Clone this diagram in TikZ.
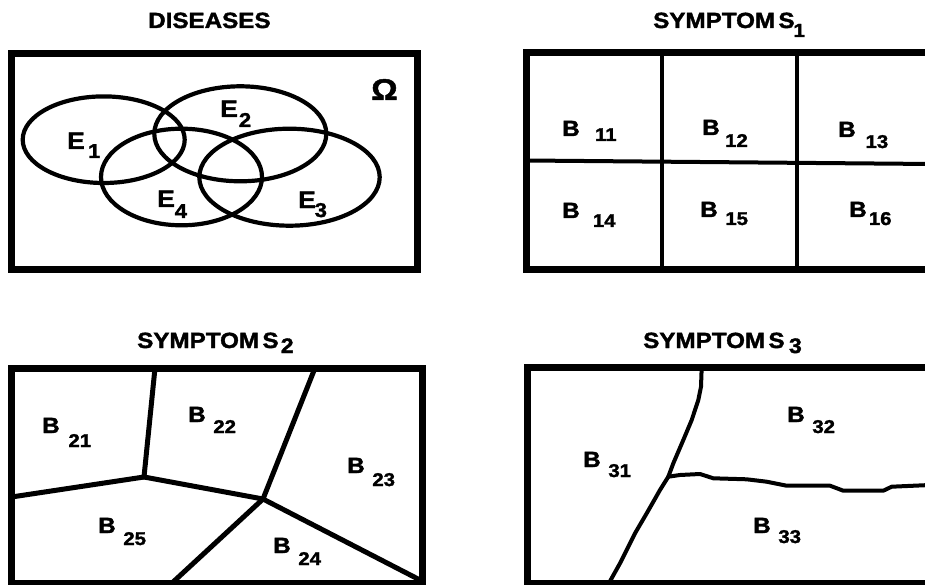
\documentclass[tikz,border=0pt]{standalone}
\usepackage{fontspec}
\setmainfont{Liberation Sans}
\newfontfamily\heavy[FakeBold=1.6]{Liberation Sans Bold}
\newcommand{\wide}[1]{\scalebox{1.1}[1]{#1}}
\newcommand{\blab}[3]{\wide{B\hspace{#2pt}\raisebox{-#3pt}{\fontsize{18.5}{18.5}\selectfont #1}}}
\newcommand{\elab}[3]{\wide{E\hspace{#2pt}\raisebox{-#3pt}{\fontsize{20}{20}\selectfont #1}}}
\newcommand{\stitle}[4]{\wide{SYMPTOM\hspace{3pt}S\hspace{#2pt}\raisebox{-#3pt}{\fontsize{#4}{#4}\selectfont #1}}}
\begin{document}
\begin{tikzpicture}[x=1pt,y=-1pt,
  frame/.style={line width=7pt},
  part/.style={line width=4pt, line join=round, line cap=round},
  cut/.style={line width=5pt, line join=round, line cap=round},
  set/.style={line width=4.2pt},
  lab/.style={anchor=base west, inner sep=0pt, font=\fontsize{22}{22}\selectfont\heavy},
  elabel/.style={anchor=base west, inner sep=0pt, font=\fontsize{24}{24}\selectfont\heavy}]
\useasboundingbox (0,0) rectangle (925,585);
\fill[white] (0,0) rectangle (925,585);
\clip (0,0) rectangle (925,585);

% ---------- titles ----------
\node[lab] (t0) at (148,28) {\wide{DISEASES}};
\node[lab] (t1) at (653,28) {\stitle{1}{-1}{9}{19}};
\node[lab] (t2) at (137,348) {\stitle{2}{2}{5}{21}};
\node[lab] (t3) at (643,348) {\stitle{3}{4}{5}{21}};

% ---------- diseases ----------
\draw[frame] (11.5,53.5) rectangle (417.5,269.5);
\draw[set] (103.7,139.7) ellipse [x radius=81pt, y radius=43.3pt];
\draw[set] (240.3,133.8) ellipse [x radius=86pt, y radius=47.5pt];
\draw[set] (181.5,177) ellipse [x radius=80.5pt, y radius=48.3pt];
\draw[set] (289.5,177.2) ellipse [x radius=90.2pt, y radius=48.5pt];
\node[elabel] (e1) at (67,149) {\elab{1}{3}{9}};
\node[elabel] (e2) at (220,117) {\elab{2}{1}{10}};
\node[elabel] (e4) at (157,207) {\elab{4}{0}{11}};
\node[elabel] (e3) at (298,208) {\elab{3}{-1}{9}};
\node[anchor=base west, inner sep=0pt, font=\fontsize{30}{30}\selectfont\heavy] (om) at (371,100) {\wide{Ω}};

% ---------- symptom S1 ----------
\draw[frame] (526,53) rectangle (932,269);
\draw[part] (662,53) -- (662,269);
\draw[part] (797,53) -- (797,269);
\draw[part] (526,160.5) -- (932,164);
\node[lab] (b11) at (562,136) {\blab{11}{14}{5}};
\node[lab] (b12) at (702,135) {\blab{12}{5}{12}};
\node[lab] (b13) at (838,137) {\blab{13}{9}{11}};
\node[lab] (b14) at (562,218) {\blab{14}{12}{9}};
\node[lab] (b15) at (700,217) {\blab{15}{7}{8}};
\node[lab] (b16) at (849,217) {\blab{16}{2}{8}};

% ---------- symptom S2 ----------
\draw[frame] (11.5,368) rectangle (422,583);
\coordinate (j1) at (144,477);
\coordinate (j2) at (263,499);
\draw[cut] (155,368) -- (j1) -- (11.5,497);
\draw[cut] (j1) -- (j2) -- (315,368);
\draw[cut] (j2) -- (172,583);
\draw[cut] (j2) -- (420,580);
\node[lab] (b21) at (42,433) {\blab{21}{8}{14}};
\node[lab] (b22) at (188,422) {\blab{22}{7}{11}};
\node[lab] (b23) at (347,473) {\blab{23}{7}{13}};
\node[lab] (b25) at (98,533) {\blab{25}{7}{12}};
\node[lab] (b24) at (273,553) {\blab{24}{7}{12}};

% ---------- symptom S3 ----------
\draw[frame] (527,367) rectangle (933,583);
\coordinate (k) at (668.3,476.7);
\draw[part] (701.7,367) -- (701,386.7) -- (698.3,400) -- (691.7,420) -- (683.3,440)
  -- (673.3,463.3) -- (k) -- (660,490) -- (646.7,513.3) -- (635,533.3)
  -- (628.3,546.7) -- (620,563.3) -- (609,583);
\draw[part] (k) -- (680,475) -- (700,474) -- (713.3,478.3) -- (746.7,479.3)
  -- (766.7,481.7) -- (786.7,485.7) -- (830,485.7) -- (843.3,490.7)
  -- (883.3,490.7) -- (891.7,486.7) -- (930,485);
\node[lab] (b31) at (583,467) {\blab{31}{7}{10}};
\node[lab] (b32) at (787,422) {\blab{32}{7}{11}};
\node[lab] (b33) at (753,533) {\blab{33}{7}{10}};
\end{tikzpicture}
\end{document}
